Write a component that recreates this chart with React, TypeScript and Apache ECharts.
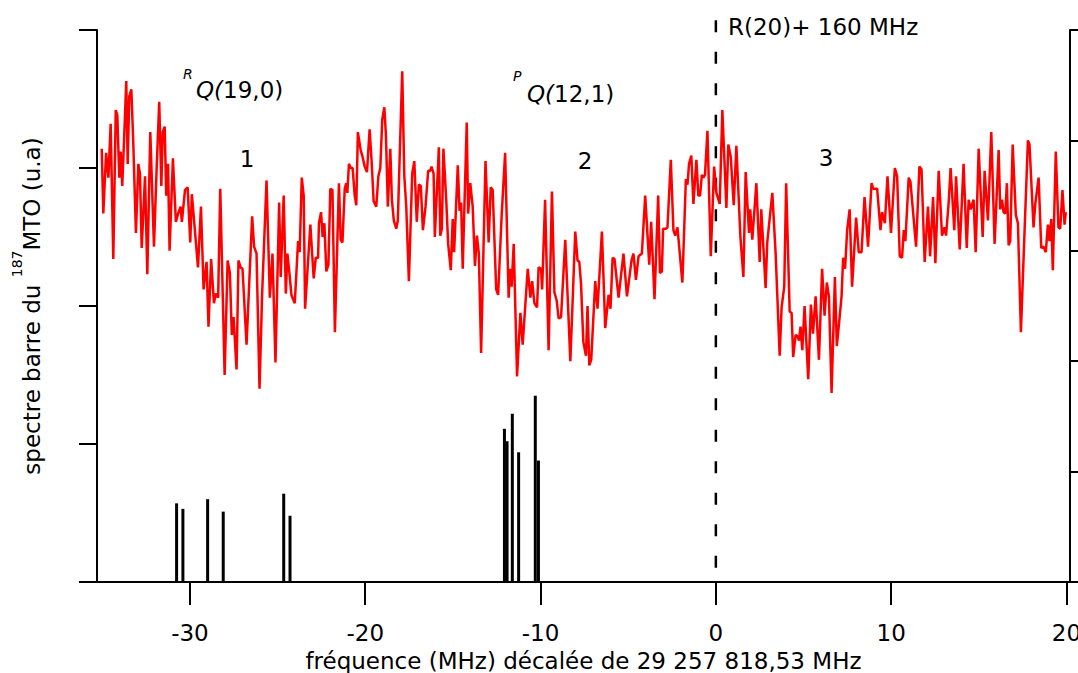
import React, { useEffect, useRef } from "react";
import * as echarts from "echarts";

// Frequency offset (MHz) of the recorded saturated-absorption trace
const freq = [
  -35.03, -34.94, -34.78, -34.65, -34.52, -34.37, -34.23, -34.14, -34.03, -33.95,
  -33.86, -33.74, -33.63, -33.55, -33.46, -33.34, -33.23, -33.08, -32.94, -32.85,
  -32.75, -32.56, -32.43, -32.26, -32.05, -31.90, -31.75, -31.63, -31.55, -31.44,
  -31.35, -31.25, -31.16, -30.97, -30.80, -30.67, -30.53, -30.46, -30.28, -30.13,
  -29.98, -29.89, -29.73, -29.54, -29.37, -29.22, -29.05, -28.94, -28.79, -28.63,
  -28.52, -28.39, -28.27, -28.02, -27.85, -27.72, -27.61, -27.51, -27.34, -27.23,
  -27.11, -27.00, -26.77, -26.45, -26.34, -26.20, -26.03, -25.88, -25.63, -25.44,
  -25.29, -25.12, -24.91, -24.82, -24.65,
  -24.53, -24.44, -24.34, -24.21, -24.02, -23.83, -23.74, -23.62, -23.51, -23.43,
  -23.13, -22.94, -22.82, -22.69, -22.64, -22.52, -22.43, -22.33, -22.22, -22.10,
  -21.99, -21.87, -21.73, -21.50, -21.40, -21.30, -21.17, -21.08, -21.02, -20.93,
  -20.83, -20.72, -20.60, -20.51, -20.42, -20.26, -20.17, -20.03, -19.90, -19.75,
  -19.64, -19.52, -19.37, -19.25, -19.14, -19.03, -18.91, -18.82, -18.71, -18.57,
  -18.48, -18.37, -18.23, -18.14, -18.04, -17.89, -17.77, -17.66, -17.51, -17.32,
  -17.20, -17.06, -16.94, -16.83, -16.71, -16.56, -16.41, -16.29, -16.22, -16.10,
  -16.03, -15.80, -15.72, -15.63, -15.54, -15.38, -15.27, -15.12, -15.01, -14.93,
  -14.72, -14.62, -14.53, -14.44, -14.21, -14.13, -14.01, -13.87, -13.74, -13.63,
  -13.52, -13.39,
  -13.14, -12.96, -12.84, -12.73, -12.53, -12.42, -12.22, -12.02, -11.82, -11.74,
  -11.65, -11.53, -11.34, -11.15, -11.02, -10.73, -10.58, -10.48, -10.35, -10.20,
  -10.11, -9.97, -9.91, -9.74, -9.54, -9.35, -9.21, -9.08, -8.97, -8.83,
  -8.59, -8.30, -8.02, -7.89, -7.79, -7.69, -7.56, -7.41, -7.32, -7.22,
  -7.11, -6.88, -6.75, -6.50, -6.31, -6.12, -6.01, -5.89, -5.78, -5.55,
  -5.27, -5.07, -4.81, -4.70, -4.56, -4.41, -4.22, -4.03, -3.80, -3.69,
  -3.50, -3.29, -3.19, -3.08, -3.01, -2.85, -2.76, -2.57, -2.42, -2.32,
  -2.19, -2.10, -1.91, -1.71, -1.62, -1.53, -1.40, -1.28, -1.11, -1.00,
  -0.90, -0.80, -0.71, -0.62, -0.48, -0.29, -0.10, 0.03, 0.22, 0.37,
  0.60, 0.71, 0.85, 1.02, 1.17, 1.40, 1.57, 1.70, 1.89, 1.96,
  2.08, 2.31, 2.50, 2.59, 2.84, 2.93, 3.22, 3.41, 3.64, 3.75,
  3.90, 4.01, 4.21, 4.32, 4.41, 4.55, 4.66, 4.74, 4.83, 4.93,
  5.06, 5.27, 5.42, 5.54, 5.69, 5.88, 6.06, 6.20, 6.33, 6.45,
  6.60, 6.79, 6.90, 7.06, 7.17, 7.26, 7.37, 7.49, 7.63, 7.77,
  8.00, 8.15, 8.31, 8.48, 8.68, 8.88, 8.97, 9.20, 9.39, 9.48,
  9.64, 9.79, 9.99, 10.21, 10.34, 10.49, 10.62, 10.72, 10.81, 11.00,
  11.10, 11.25, 11.42, 11.61, 11.73, 11.91, 12.10, 12.22, 12.39, 12.52,
  12.71, 12.90, 13.04, 13.13, 13.28, 13.39, 13.60, 13.70, 13.91, 14.13,
  14.31, 14.42, 14.53, 14.70, 14.82, 14.99, 15.22, 15.33, 15.52, 15.71,
  15.90, 16.13, 16.22, 16.32, 16.41, 16.51, 16.60, 16.70, 16.79, 16.93,
  17.11, 17.23, 17.40, 17.59, 17.80, 17.89, 18.12, 18.22, 18.41, 18.56,
  18.69, 18.82, 18.94, 19.03, 19.13, 19.22, 19.39, 19.54, 19.64, 19.77,
  19.89, 19.96,
];

// Signal (arbitrary units, left axis ticks at 0..4)
const signal = [
  3.14, 2.67, 3.11, 2.93, 3.32, 2.34, 3.42, 3.38, 2.93, 3.12,
  2.87, 3.26, 3.63, 3.03, 3.52, 3.57, 3.18, 2.53, 3.03, 2.96,
  2.42, 2.94, 2.23, 3.26, 2.43, 2.99, 3.48, 2.87, 3.26, 3.30,
  2.80, 3.03, 2.40, 3.07, 2.61, 2.67, 2.72, 2.61, 2.84, 2.86,
  2.46, 2.81, 2.57, 2.28, 2.72, 2.12, 2.32, 1.85, 2.34, 2.02,
  2.09, 2.06, 2.85, 1.50, 2.33, 2.24, 1.79, 1.92, 1.54, 2.33,
  2.28, 2.27, 1.72, 2.65, 2.43, 2.38, 1.40, 2.09, 2.91, 2.06,
  2.38, 1.59, 2.75, 2.21, 2.80,
  2.09, 2.38, 2.26, 2.08, 2.02, 2.47, 2.39, 2.93, 2.80, 1.98,
  2.59, 2.20, 2.35, 2.35, 2.60, 2.68, 2.50, 2.60, 2.25, 2.30,
  2.85, 2.84, 1.81, 2.89, 2.48, 2.46, 2.85, 2.89, 2.82, 3.03,
  3.00, 3.00, 2.80, 2.73, 3.26, 3.13, 3.09, 3.01, 2.97, 3.28,
  3.06, 2.76, 2.72, 2.94, 3.00, 3.35, 3.44, 3.24, 2.72, 3.14,
  2.77, 2.62, 2.56, 2.62, 3.06, 3.70, 2.94, 2.72, 2.18, 2.96,
  3.05, 2.61, 2.88, 2.87, 2.55, 2.72, 2.98, 2.98, 3.01, 2.96,
  2.50, 3.15, 2.51, 2.56, 3.14, 2.77, 2.45, 2.26, 2.63, 2.39,
  3.02, 2.69, 2.75, 2.27, 3.33, 2.67, 2.89, 2.72, 2.29, 2.51,
  2.38, 1.66,
  3.05, 2.46, 2.86, 2.84, 2.12, 2.08, 2.65, 3.11, 2.06, 2.27,
  2.14, 2.45, 1.49, 1.95, 1.72, 2.27, 2.06, 2.18, 2.02, 1.99,
  2.28, 2.27, 2.12, 2.77, 1.68, 2.83, 2.10, 2.04, 1.91, 1.92,
  2.48, 1.60, 2.54, 2.33, 2.32, 2.16, 1.74, 1.64, 2.00, 1.57,
  1.61, 2.18, 1.98, 2.54, 1.84, 2.08, 1.98, 2.35, 2.34, 2.06,
  2.38, 2.07, 2.33, 2.38, 2.19, 2.36, 2.38, 2.80, 2.30, 2.61,
  2.05, 2.80, 2.24, 2.25, 2.56, 2.56, 2.57, 3.06, 2.55, 2.51,
  2.57, 2.44, 2.17, 2.92, 2.88, 3.03, 3.09, 2.74, 3.06, 2.80,
  2.80, 2.95, 2.93, 2.95, 3.27, 2.36, 3.01, 2.82, 2.74, 3.42,
  2.71, 3.17, 3.08, 2.73, 3.16, 2.50, 2.21, 2.97, 2.53, 2.70,
  2.48, 2.89, 2.32, 2.70, 2.13, 2.46, 2.82, 2.38, 1.64, 1.99,
  2.14, 2.89, 1.96, 1.95, 1.63, 1.79, 1.78, 1.75, 1.85, 1.68,
  2.00, 1.47, 2.01, 1.80, 2.07, 1.61, 2.27, 1.93, 2.17, 2.07,
  1.37, 2.21, 1.71, 1.92, 2.07, 2.35, 2.27, 2.55, 2.70, 2.14,
  2.64, 2.39, 2.39, 2.79, 2.43, 2.89, 2.85, 2.85, 2.55, 2.68,
  2.60, 2.94, 2.53, 3.00, 2.94, 2.36, 2.35, 2.55, 2.47, 2.93,
  2.90, 2.68, 2.43, 3.01, 2.99, 2.32, 2.72, 2.36, 2.79, 2.31,
  2.98, 2.51, 2.57, 2.51, 2.75, 3.00, 2.55, 2.94, 2.41, 3.03,
  2.42, 2.77, 2.70, 2.77, 2.39, 3.14, 2.50, 2.98, 2.62, 3.26,
  2.45, 3.13, 2.70, 2.77, 2.68, 2.67, 2.89, 2.44, 2.47, 3.17,
  2.66, 2.60, 1.81, 2.48, 3.20, 3.17, 2.57, 2.74, 2.93, 2.42,
  2.43, 2.39, 2.59, 2.47, 2.63, 2.26, 3.12, 2.57, 2.56, 2.84,
  2.59, 2.68,
];

// Calculated stick (bar) spectrum of 187MTO
const stickFreq = [-30.76, -30.4, -28.99, -28.1, -24.65, -24.29, -12.06, -11.91, -11.61, -11.25, -10.3, -10.12];
const stickHeight = [0.57, 0.53, 0.6, 0.51, 0.64, 0.48, 1.11, 1.02, 1.22, 0.94, 1.35, 0.88];

// Tick values
const xTicks = [-30, -20, -10, 0, 10, 20];
const markerFreq = [0];

const FONT = "'DejaVu Sans', sans-serif";

export default function App() {
  const ref = useRef<HTMLDivElement>(null);

  useEffect(() => {
    if (!ref.current) return;
    const chart = echarts.init(ref.current, undefined, { renderer: "svg" });
    const black = "#000";
    const option: any = {
      animation: false,
      textStyle: { fontFamily: FONT, color: black },
      grid: { left: 97, right: 8, top: 30, bottom: 91, containLabel: false, outerBoundsMode: "none" },
      xAxis: {
        type: "value",
        min: -35.3,
        max: 20.2,
        name: "fréquence (MHz) décalée de 29 257 818,53 MHz",
        nameLocation: "middle",
        nameGap: 67,
        nameTextStyle: { fontSize: 23, color: black, fontFamily: FONT, verticalAlign: "top" },
        axisLine: { show: true, onZero: false, lineStyle: { color: black, width: 2 } },
        axisTick: { show: true, length: 23, lineStyle: { color: black, width: 2 }, customValues: xTicks },
        axisLabel: { show: true, fontSize: 23, color: black, fontFamily: FONT, margin: 39, customValues: xTicks },
        splitLine: { show: false },
      },
      yAxis: [
        {
          type: "value",
          min: 0,
          max: 4,
          interval: 1,
          position: "left",
          name: "{a|spectre barre du }{s|187}{a|MTO (u.a)}",
          nameLocation: "middle",
          nameRotate: 90,
          nameGap: 43,
          nameTextStyle: {
            color: black,
            rich: {
              a: { fontSize: 23, fontFamily: FONT, color: black },
              s: { fontSize: 14, fontFamily: FONT, color: black, verticalAlign: "top", padding: [0, 0, 30, 0] },
            },
          },
          axisLine: { show: true, onZero: false, lineStyle: { color: black, width: 2 } },
          axisTick: { show: true, length: 18, lineStyle: { color: black, width: 2 } },
          axisLabel: { show: false },
          splitLine: { show: false },
        },
        {
          type: "value",
          min: 0,
          max: 5,
          interval: 1,
          position: "right",
          axisLine: { show: true, onZero: false, lineStyle: { color: black, width: 2 } },
          axisTick: { show: true, length: 8, lineStyle: { color: black, width: 2 } },
          axisLabel: { show: false },
          splitLine: { show: false },
        },
      ],
      series: [
        {
          type: "line",
          name: "signal",
          yAxisIndex: 0,
          data: freq.map((f, i) => [f, signal[i]]),
          symbol: "none",
          showSymbol: false,
          lineStyle: { color: "#ff0000", width: 2.5 },
          itemStyle: { color: "#ff0000" },
          z: 3,
        },
        {
          type: "bar",
          name: "sticks",
          yAxisIndex: 0,
          data: stickFreq.map((f, i) => [f, stickHeight[i]]),
          barWidth: 3,
          itemStyle: { color: black },
          z: 2,
        },
        {
          type: "line",
          name: "R(20) marker",
          yAxisIndex: 0,
          data: [
            [markerFreq[0], 4.07],
            [markerFreq[0], 0],
          ],
          symbol: "none",
          clip: false,
          lineStyle: { color: black, width: 2.5, type: [12, 19.5], dashOffset: 0 },
          z: 1,
        },
      ],
      graphic: [
        {
          type: "text",
          x: 728,
          y: 27,
          style: { text: "R(20)+ 160 MHz", fontSize: 23, fontFamily: FONT, fill: black, align: "left", verticalAlign: "middle" },
        },
        {
          type: "text",
          x: 183,
          y: 74,
          style: { text: "R", fontSize: 14, fontStyle: "italic", fontFamily: FONT, fill: black, align: "left", verticalAlign: "middle" },
        },
        {
          type: "text",
          x: 196,
          y: 90,
          style: {
            text: "{i|Q(}{n|19,0)}",
            fill: black,
            align: "left",
            verticalAlign: "middle",
            rich: {
              i: { fontSize: 23, fontStyle: "italic", fontFamily: FONT, fill: black },
              n: { fontSize: 23, fontFamily: FONT, fill: black },
            },
          },
        },
        {
          type: "text",
          x: 513,
          y: 76,
          style: { text: "P", fontSize: 14, fontStyle: "italic", fontFamily: FONT, fill: black, align: "left", verticalAlign: "middle" },
        },
        {
          type: "text",
          x: 527,
          y: 94,
          style: {
            text: "{i|Q(}{n|12,1)}",
            fill: black,
            align: "left",
            verticalAlign: "middle",
            rich: {
              i: { fontSize: 23, fontStyle: "italic", fontFamily: FONT, fill: black },
              n: { fontSize: 23, fontFamily: FONT, fill: black },
            },
          },
        },
        {
          type: "text",
          x: 247,
          y: 159,
          style: { text: "1", fontSize: 23, fontFamily: FONT, fill: black, align: "center", verticalAlign: "middle" },
        },
        {
          type: "text",
          x: 585,
          y: 161,
          style: { text: "2", fontSize: 23, fontFamily: FONT, fill: black, align: "center", verticalAlign: "middle" },
        },
        {
          type: "text",
          x: 826,
          y: 158,
          style: { text: "3", fontSize: 23, fontFamily: FONT, fill: black, align: "center", verticalAlign: "middle" },
        },
      ],
    };
    chart.setOption(option);
    return () => chart.dispose();
  }, []);

  return (
    <div
      ref={ref}
      style={{ position: "fixed", left: 0, top: 0, width: 1078, height: 673, background: "#fff" }}
    />
  );
}
